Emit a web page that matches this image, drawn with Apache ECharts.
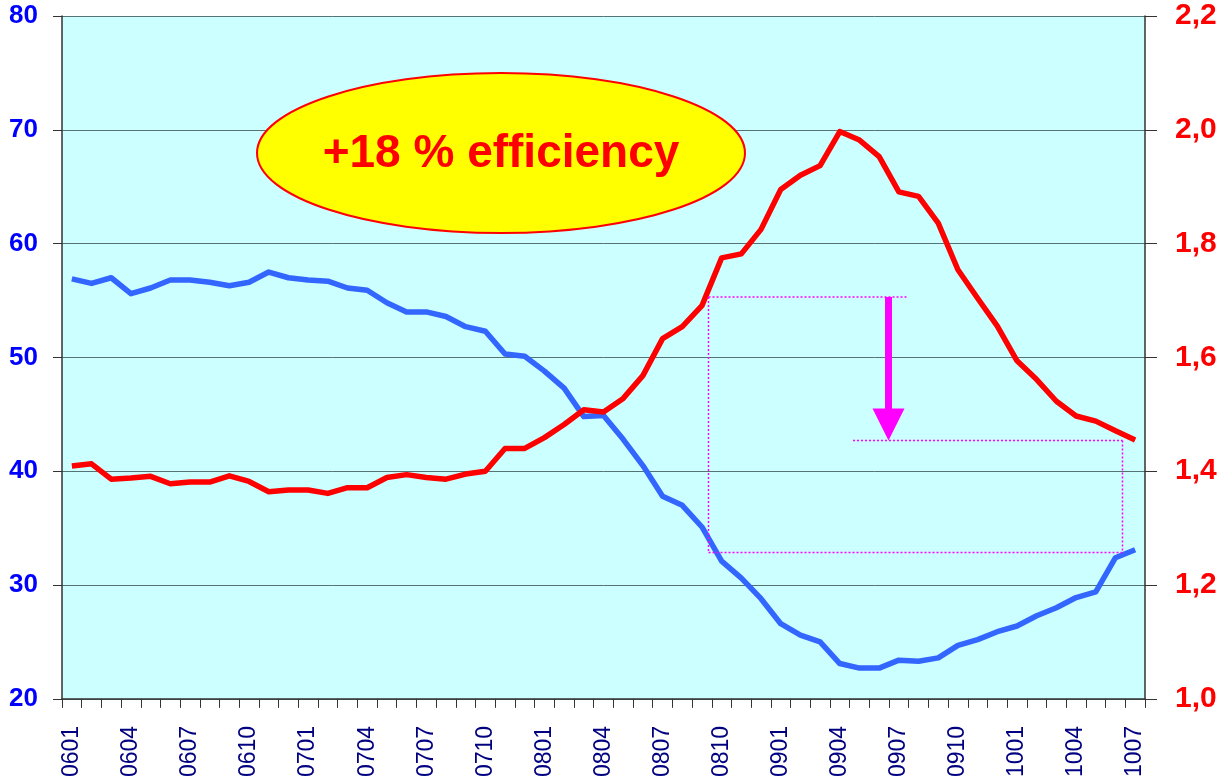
<!DOCTYPE html>
<html>
<head>
<meta charset="utf-8">
<script src="https://cdn.jsdelivr.net/npm/echarts@6/dist/echarts.min.js"></script>
<style>
html,body{margin:0;padding:0;background:#fff;}
#chart{width:1226px;height:780px;}
</style>
</head>
<body>
<div id="chart"></div>
<script>
const months = ['0601','0602','0603','0604','0605','0606','0607','0608','0609','0610','0611','0612',
  '0701','0702','0703','0704','0705','0706','0707','0708','0709','0710','0711','0712',
  '0801','0802','0803','0804','0805','0806','0807','0808','0809','0810','0811','0812',
  '0901','0902','0903','0904','0905','0906','0907','0908','0909','0910','0911','0912',
  '1001','1002','1003','1004','1005','1006','1007'];

// blue series, left axis
const blueValues = [56.9,56.5,57.0,55.6,56.1,56.8,56.8,56.6,56.3,56.6,57.5,57.0,
  56.8,56.7,56.1,55.9,54.8,54.0,54.0,53.6,52.7,52.3,50.3,50.1,
  48.8,47.3,44.8,44.9,42.8,40.5,37.8,37.0,35.1,32.1,30.6,28.8,
  26.6,25.6,25.0,23.1,22.7,22.7,23.4,23.3,23.6,24.7,25.2,25.9,
  26.4,27.3,28.0,28.9,29.4,32.4,33.1];

// red series, right axis
const redValues = [1.409,1.413,1.386,1.388,1.391,1.378,1.381,1.381,1.392,1.382,1.364,1.367,
  1.367,1.361,1.371,1.371,1.389,1.394,1.389,1.386,1.395,1.400,1.440,1.440,
  1.459,1.482,1.508,1.504,1.528,1.568,1.633,1.654,1.691,1.775,1.782,1.825,
  1.895,1.920,1.937,1.997,1.982,1.953,1.891,1.883,1.836,1.754,1.704,1.655,
  1.594,1.561,1.523,1.497,1.488,1.471,1.455];

const leftTicks = {min: 20, max: 80, interval: 10};
const rightTicks = {min: 1.0, max: 2.2, interval: 0.2};
const badgeText = '+18 % efficiency';

const chart = echarts.init(document.getElementById('chart'), null, {renderer: 'canvas'});
const magenta = '#FF00FF';
const dotted = {stroke: magenta, lineWidth: 1.5, lineDash: [2, 2]};

chart.setOption({
  animation: false,
  grid: {left: 62, right: 81, top: 16, bottom: 80, show: true, backgroundColor: '#CCFFFF', borderWidth: 0},
  xAxis: {
    type: 'category',
    data: months,
    boundaryGap: true,
    axisLine: {show: true, lineStyle: {color: '#333333', width: 1.5}},
    axisTick: {show: true, interval: 0, length: 9, lineStyle: {color: '#333333'}},
    axisLabel: {interval: 2, rotate: 90, margin: 27, color: '#000080', fontSize: 23, fontFamily: 'Liberation Sans, Arial, sans-serif'},
    splitLine: {show: false}
  },
  yAxis: [{
    type: 'value',
    min: leftTicks.min, max: leftTicks.max, interval: leftTicks.interval,
    position: 'left',
    axisLine: {show: true, lineStyle: {color: '#333333', width: 1.5}},
    axisTick: {show: true, length: 9, lineStyle: {color: '#333333'}},
    axisLabel: {margin: 24, color: '#0000FF', fontSize: 26, fontWeight: 'bold', fontFamily: 'Liberation Sans, Arial, sans-serif'},
    splitLine: {show: true, lineStyle: {color: '#557373', width: 1}}
  }, {
    type: 'value',
    min: rightTicks.min, max: rightTicks.max, interval: rightTicks.interval,
    position: 'right',
    axisLine: {show: true, lineStyle: {color: '#333333', width: 1.5}},
    axisTick: {show: true, length: 12, lineStyle: {color: '#333333'}},
    axisLabel: {margin: 30, color: '#FF0000', fontSize: 30, fontWeight: 'bold', fontFamily: 'Liberation Sans, Arial, sans-serif',
      formatter: v => v.toFixed(1).replace('.', ',')},
    splitLine: {show: false}
  }],
  series: [{
    name: 'blue', type: 'line', yAxisIndex: 0, data: blueValues,
    symbol: 'none', lineStyle: {color: '#3366FF', width: 5.5, join: 'round'}, z: 3
  }, {
    name: 'red', type: 'line', yAxisIndex: 1, data: redValues,
    symbol: 'none', lineStyle: {color: '#FF0000', width: 5.5, join: 'round'}, z: 4
  }],
  graphic: [
    {type: 'ellipse', shape: {cx: 501, cy: 153, rx: 244, ry: 80}, style: {fill: '#FFFF00', stroke: '#FF0000', lineWidth: 2}, z: 10},
    {type: 'text', x: 501, y: 154, style: {text: badgeText, fill: '#FF0000', font: 'bold 46px "Liberation Sans", Arial, sans-serif', align: 'center', verticalAlign: 'middle'}, z: 11},
    {type: 'line', shape: {x1: 708.5, y1: 297, x2: 907, y2: 297}, style: dotted, z: 10},
    {type: 'line', shape: {x1: 708.5, y1: 297, x2: 708.5, y2: 552.5}, style: dotted, z: 10},
    {type: 'line', shape: {x1: 708.5, y1: 552.5, x2: 1122.5, y2: 552.5}, style: dotted, z: 10},
    {type: 'line', shape: {x1: 853, y1: 440.5, x2: 1122.5, y2: 440.5}, style: dotted, z: 10},
    {type: 'line', shape: {x1: 1122.5, y1: 440.5, x2: 1122.5, y2: 552.5}, style: dotted, z: 10},
    {type: 'rect', shape: {x: 885, y: 297, width: 7, height: 112}, style: {fill: magenta}, z: 10},
    {type: 'polygon', shape: {points: [[872.5, 408.5], [904.5, 408.5], [888.5, 440.5]]}, style: {fill: magenta}, z: 10}
  ]
});
</script>
</body>
</html>
